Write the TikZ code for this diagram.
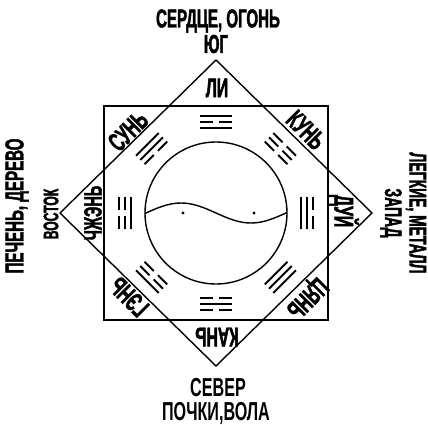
\documentclass[tikz,border=0pt]{standalone}
\usepackage{fontspec}
\newfontfamily\condfont[FakeStretch=0.58, BoldFeatures={FakeBold=1.6}]{Liberation Sans}
\newfontfamily\plainfont[FakeStretch=0.62]{Liberation Sans}
\tikzset{
  frame/.style={line width=1.4pt},
  yao/.style={line width=1.9pt},
  gua/.style={font=\condfont\bfseries\fontsize{27}{27}\selectfont, inner sep=0pt},
  side/.style={font=\condfont\bfseries\fontsize{26}{26}\selectfont, inner sep=0pt},
  northside/.style={font=\plainfont\bfseries\fontsize{26}{26}\selectfont, inner sep=0pt},
}
\begin{document}
\begin{tikzpicture}[x=1pt, y=1pt]
  \useasboundingbox (-216,-211) rectangle (212,213);
  % квадрат и ромб
  \draw[frame] (-112,-107) rectangle (112,107);
  \draw[frame] (0,153) -- (156,0) -- (0,-153) -- (-156,0) -- cycle;

  % круг с волнистой линией
  \draw[frame] (0,0) circle (71);
  \draw[frame, domain=-71:71, smooth, samples=40, variable=\x] plot ({\x}, {-10*sin(\x*180/70)});
  \fill (-33,0) circle (1.6);
  \fill (38,0) circle (1.6);

  % триграммы: угол / черты снизу вверх (1 = сплошная, 0 = прерванная)
  \foreach \ang/\a/\b/\c in {90/1/0/1, 270/0/1/0, 180/1/0/0, 0/1/1/0,
                             135/0/1/1, 45/0/0/0, 315/1/1/1, 225/0/0/1} {
    \begin{scope}[rotate=\ang-90]
      \foreach \bit [count=\k from 0] in {\a,\b,\c} {
        \pgfmathsetmacro\r{85+6*\k}
        \ifnum\bit=1
          \draw[yao] (-16,\r) -- (16,\r);
        \else
          \draw[yao] (-16,\r) -- (-3,\r) (3,\r) -- (16,\r);
        \fi
      }
    \end{scope}
  }

  % названия триграмм
  \node[gua] (li) at (1,125) {ЛИ};
  \node[gua, rotate=180] (kan) at (1,-124) {КАНЬ};
  \node[gua, rotate=90, font=\condfont\bfseries\fontsize{25}{25}\selectfont] (zhen) at (-123,0) {ЧЖЭНЬ};
  \node[gua, rotate=-90] (dui) at (128,2) {ДУЙ};
  \node[gua, rotate=45] (sun) at (-88,82) {СУНЬ};
  \node[gua, rotate=-45] (kun) at (90,83) {КУНЬ};
  \node[gua, rotate=225] (qian) at (90,-84) {ЦЯНЬ};
  \node[gua, rotate=135] (gen) at (-87,-84) {ГЭНЬ};

  % стороны света
  \node[side] (south) at (2,192) {СЕРДЦЕ, ОГОНЬ};
  \node[side] (southdir) at (0,169) {ЮГ};
  \node[northside] (north) at (2,-175) {СЕВЕР};
  \node[northside] (northorg) at (0,-200) {ПОЧКИ,ВОЛА};
  \node[side, rotate=90] (east) at (-199,7) {ПЕЧЕНЬ, ДЕРЕВО};
  \node[side, rotate=90, font=\condfont\bfseries\fontsize{21}{21}\selectfont] (eastdir) at (-165,-1) {ВОСТОК};
  \node[side, rotate=-90, font=\condfont\bfseries\fontsize{24}{24}\selectfont] (west) at (200,0) {ЛЕГКИЕ, МЕТАЛЛ};
  \node[side, rotate=-90, font=\condfont\bfseries\fontsize{24}{24}\selectfont] (westdir) at (175,0) {ЗАПАД};
\end{tikzpicture}
\end{document}
